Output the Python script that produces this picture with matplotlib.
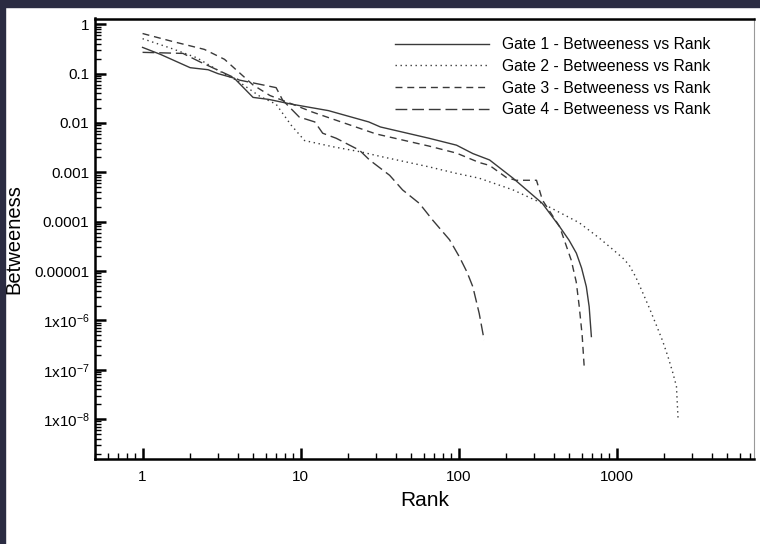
import matplotlib

matplotlib.use("Agg")

import matplotlib.pyplot as plt
from matplotlib.patches import Rectangle

plt.rcParams["font.family"] = ["Liberation Sans", "DejaVu Sans"]
plt.rcParams["mathtext.default"] = "regular"

# values (rank, betweeness)
gate1_rank = [1, 1.3, 2.0, 2.6, 3.0, 3.8, 5.0, 6.3, 8.8, 15, 27, 32, 65, 97, 123, 157,
              221, 339, 436, 500, 556, 600, 643, 670, 692]
gate1_btw = [0.34, 0.245, 0.132, 0.12, 0.1, 0.081, 0.033, 0.030, 0.024, 0.0178, 0.0105,
             0.0083, 0.0049, 0.00355, 0.0024, 0.00178, 0.00076, 0.000234, 7.9e-5, 4.2e-5,
             2.3e-5, 1.15e-5, 4.8e-6, 1.9e-6, 4.7e-7]

gate2_rank = [1, 1.5, 2.2, 3.0, 4.0, 5.5, 7.0, 8.7, 10.6, 16, 24, 32, 65, 97, 135, 221,
              339, 580, 780, 950, 1100, 1200, 1320, 1470, 1620, 1780, 1950, 2110, 2260,
              2390, 2450]
gate2_btw = [0.51, 0.33, 0.21, 0.117, 0.071, 0.035, 0.024, 0.0091, 0.0044, 0.0033, 0.0026,
             0.0021, 0.00129, 0.00095, 0.00076, 0.00044, 0.000234, 9.5e-5, 4.6e-5,
             2.7e-5, 1.8e-5, 1.32e-5, 7.6e-6, 3.5e-6, 1.7e-6, 8.1e-7, 3.9e-7, 1.86e-7,
             9.0e-8, 4.6e-8, 9.5e-9]

gate3_rank = [1, 1.5, 2.46, 3.3, 4.0, 5.0, 6.4, 8.1, 11.9, 30, 65, 97, 135, 157, 200, 230,
              311, 339, 436, 516, 555, 580, 605, 625]
gate3_btw = [0.65, 0.46, 0.31, 0.195, 0.112, 0.059, 0.036, 0.027, 0.0166, 0.006, 0.0034,
             0.00245, 0.00158, 0.00138, 0.00079, 0.00069, 0.00069, 0.000275, 7.9e-5,
             1.66e-5, 6.0e-6, 1.9e-6, 5.0e-7, 1.0e-7]

gate4_rank = [1, 1.8, 2.3, 4.1, 7.0, 7.7, 9.8, 12.3, 13.8, 16.8, 23.6, 27.3, 36.6, 44.2,
              56.5, 68.6, 87.6, 101, 113, 123, 135, 145]
gate4_btw = [0.27, 0.257, 0.174, 0.074, 0.052, 0.029, 0.0132, 0.0105, 0.0062, 0.0049,
             0.0028, 0.00178, 0.00087, 0.00044, 0.000234, 0.000107, 4.3e-5, 1.95e-5,
             9.5e-6, 4.8e-6, 1.38e-6, 4.0e-7]

labels = [f"Gate {i} - Betweeness vs Rank" for i in range(1, 5)]
ytick_values = [1, 0.1, 0.01, 0.001, 0.0001, 0.00001, 1e-6, 1e-7, 1e-8]
ytick_labels = ["1", "0.1", "0.01", "0.001", "0.0001", "0.00001",
                "1x10$^{-6}$", "1x10$^{-7}$", "1x10$^{-8}$"]
xtick_values = [1, 10, 100, 1000]
xtick_labels = ["1", "10", "100", "1000"]

fig = plt.figure(figsize=(7.6, 5.44), dpi=100)
ax = fig.add_axes([95 / 760, 1 - 459 / 544, 659 / 760, 440.5 / 544])

series = [
    (gate1_rank, gate1_btw, "-"),
    (gate2_rank, gate2_btw, (0, (1, 2.6))),
    (gate3_rank, gate3_btw, (0, (5, 3.5))),
    (gate4_rank, gate4_btw, (0, (8.5, 3.5))),
]
for (rank, btw, style), label in zip(series, labels):
    ax.plot(rank, btw, linestyle=style, color="#3a3a3a", linewidth=1.0, label=label)

ax.set_xscale("log")
ax.set_yscale("log")
ax.set_xlim(0.5, 7400)
ax.set_ylim(1.55e-9, 1.31)

ax.set_xticks(xtick_values)
ax.set_xticklabels(xtick_labels)
ax.set_yticks(ytick_values)
ax.set_yticklabels(ytick_labels)

ax.tick_params(which="major", direction="in", length=8, width=1.8, labelsize=11,
               top=False, right=False)
ax.tick_params(which="minor", direction="in", length=4.5, width=1.0,
               top=False, right=False)
ax.tick_params(axis="x", which="major", pad=8)
ax.tick_params(axis="y", which="major", pad=4)

for side in ["left", "bottom", "top"]:
    ax.spines[side].set_linewidth(1.8)
ax.spines["right"].set_linewidth(0.8)
ax.spines["right"].set_color("#999999")

ax.set_xlabel("Rank", fontsize=15, labelpad=5)
ax.set_ylabel("Betweeness", fontsize=14.5)
ax.yaxis.set_label_coords(-0.108, 0.5)

ax.legend(loc="upper left", bbox_to_anchor=(0.4455, 0.972), frameon=False, fontsize=11.3,
          handlelength=6.0, handletextpad=0.85, labelspacing=0.43, borderaxespad=0)

# dark frame strips of the screenshot
fig.patches.append(Rectangle((0, 1 - 7 / 544), 1, 7 / 544, transform=fig.transFigure,
                             color="#2b2c42", zorder=10))
fig.patches.append(Rectangle((0, 0), 5 / 760, 1, transform=fig.transFigure,
                             color="#2b2c42", zorder=10))

fig.savefig("out.png", dpi=100)
plt.close(fig)
